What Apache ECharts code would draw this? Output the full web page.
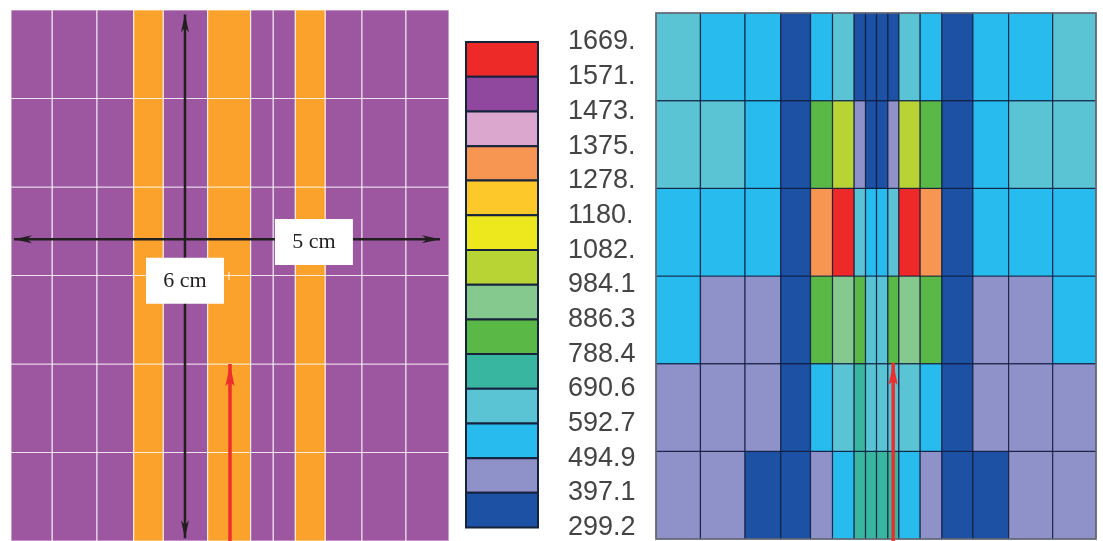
<!DOCTYPE html>
<html><head><meta charset="utf-8">
<style>html,body{margin:0;padding:0;background:#fff}#c{width:1103px;height:541px}</style>
<script src="https://cdn.jsdelivr.net/npm/echarts@6/dist/echarts.min.js"></script>
</head><body><div id="c"></div>
<script>
// ---- Left panel: specimen layout (cm) ----
const layoutXEdges = [0, 0.471, 0.982, 1.401, 1.739, 2.245, 2.736, 2.994, 3.246, 3.588, 4.007, 4.509, 5];
const layoutRowCount = 6;
const layoutMaterial = [0, 0, 0, 1, 0, 1, 0, 0, 1, 0, 0, 0];
const materialColors = ['#9c57a0', '#faa22b'];
const blackVertical = [1.986, 0.03, 5.95];
const blackHorizontal = [3.41, 0.034, 4.897];
const layoutRedArrow = [2.5, -0.02, 2.0];
const layoutTick = [2.489, 2.95, 3.04];
const layoutLabels = [
  ['5 cm', 3.458, 3.378, 78, 46],
  ['6 cm', 1.986, 2.94, 78, 46]
];

// ---- Colour scale ----
const legendTicks = [1669, 1571, 1473, 1375, 1278, 1180, 1082, 984.1, 886.3, 788.4, 690.6, 592.7, 494.9, 397.1, 299.2];
const legendLabels = ['1669.', '1571.', '1473.', '1375.', '1278.', '1180.', '1082.', '984.1', '886.3', '788.4', '690.6', '592.7', '494.9', '397.1', '299.2'];
const legendColors = ['#ee2a28', '#90479e', '#dca7cf', '#f79653', '#fdc82a', '#ece81d', '#b8d334', '#86c98f', '#5ab946', '#38b69f', '#5bc4d4', '#27bbee', '#8f92c8', '#1c51a3'];

// ---- Right panel: temperature field (band mid values) ----
const fieldXEdges = [0, 0.505, 1.012, 1.418, 1.756, 2.006, 2.252, 2.381, 2.506, 2.635, 2.760, 3.002, 3.249, 3.601, 4.007, 4.508, 5];
const fieldRow1 = [641, 543, 543, 348, 543, 641, 348, 348, 348, 348, 641, 543, 348, 543, 543, 641];
const fieldRow2 = [641, 641, 543, 348, 837, 1033, 446, 348, 348, 446, 1033, 837, 348, 543, 641, 641];
const fieldRow3 = [543, 543, 543, 348, 1326, 1620, 641, 543, 543, 641, 1620, 1326, 348, 543, 543, 543];
const fieldRow4 = [543, 446, 446, 348, 837, 935, 837, 641, 641, 837, 935, 837, 348, 446, 446, 543];
const fieldRow5 = [446, 446, 446, 348, 543, 641, 739, 641, 641, 641, 641, 543, 348, 446, 446, 446];
const fieldRow6 = [446, 446, 348, 348, 446, 543, 739, 739, 739, 739, 543, 446, 348, 348, 446, 446];
const fieldRedArrow = [2.695, -0.03, 2.01];

function bandColor(v) {
  for (let i = 0; i < legendColors.length; i++) {
    if (v <= legendTicks[i] && v > legendTicks[i + 1]) return legendColors[i];
  }
  return legendColors[legendColors.length - 1];
}

const layoutCells = [];
for (let r = 0; r < layoutRowCount; r++) layoutMaterial.forEach((m, c) =>
  layoutCells.push([layoutXEdges[c], layoutXEdges[c + 1], r, r + 1, m]));

const fieldRows = [fieldRow6, fieldRow5, fieldRow4, fieldRow3, fieldRow2, fieldRow1];
const fieldCells = [];
fieldRows.forEach((row, r) => row.forEach((v, c) =>
  fieldCells.push([fieldXEdges[c], fieldXEdges[c + 1], r, r + 1, v])));

const legendCells = legendColors.map((col, i) => [0, 1, legendTicks[i + 1], legendTicks[i], i]);

function rectOf(api) {
  const a = api.coord([api.value(0), api.value(2)]);
  const b = api.coord([api.value(1), api.value(3)]);
  return { x: a[0], y: b[1], width: b[0] - a[0], height: a[1] - b[1] };
}
function cellSeries(idx, data, fill, stroke, lw, z) {
  return {
    type: 'custom', xAxisIndex: idx, yAxisIndex: idx, data, silent: true, clip: false, z: z || 2,
    encode: { x: [0, 1], y: [2, 3] },
    renderItem(p, api) {
      return { type: 'rect', shape: rectOf(api), style: { fill: fill(api.value(4)), stroke, lineWidth: lw } };
    }
  };
}
function arrowSeries(idx, segs, color, lw, head, z) {
  return {
    type: 'custom', xAxisIndex: idx, yAxisIndex: idx, data: segs, silent: true, clip: false, z,
    encode: { x: [0, 2], y: [1, 3] },
    renderItem(p, api) {
      const a = api.coord([api.value(0), api.value(1)]);
      const b = api.coord([api.value(2), api.value(3)]);
      const ux = b[0] - a[0], uy = b[1] - a[1], L = Math.hypot(ux, uy);
      const dx = ux / L, dy = uy / L, nx = -dy, ny = dx;
      const children = [{ type: 'line', shape: { x1: a[0], y1: a[1], x2: b[0], y2: b[1] }, style: { stroke: color, lineWidth: lw } }];
      if (head) {
        const hl = head[0], hw = head[1], notch = head[2];
        const tips = [[b, dx, dy]];
        if (api.value(4)) tips.push([a, -dx, -dy]);
        tips.forEach(([t, tx, ty]) => children.push({
          type: 'polygon',
          shape: { points: [
            [t[0], t[1]],
            [t[0] - tx * hl + nx * hw, t[1] - ty * hl + ny * hw],
            [t[0] - tx * (hl - notch), t[1] - ty * (hl - notch)],
            [t[0] - tx * hl - nx * hw, t[1] - ty * hl - ny * hw]
          ] },
          style: { fill: color }
        }));
      }
      return { type: 'group', children };
    }
  };
}

const option = {
  animation: false,
  backgroundColor: '#fff',
  grid: [
    { left: 11, top: 10, width: 438, height: 531 },
    { left: 466, top: 42, width: 72, height: 490 },
    { left: 656, top: 13, width: 440, height: 526 }
  ],
  xAxis: [
    { gridIndex: 0, type: 'value', min: 0, max: 5, show: false },
    { gridIndex: 1, type: 'value', min: 0, max: 1, show: false },
    { gridIndex: 2, type: 'value', min: 0, max: 5, show: false }
  ],
  yAxis: [
    { gridIndex: 0, type: 'value', min: 0, max: 6, show: false },
    {
      gridIndex: 1, type: 'value', position: 'right', min: 299.2, max: 1669,
      axisLine: { show: false }, axisTick: { show: false }, splitLine: { show: false },
      axisLabel: {
        show: true, customValues: legendTicks, margin: 30, align: 'left',
        fontFamily: '"Liberation Sans", Arial, sans-serif', fontSize: 27, color: '#444444',
        padding: [0, 0, 10, 0],
        formatter: v => legendLabels[legendTicks.indexOf(v)]
      }
    },
    { gridIndex: 2, type: 'value', min: 0, max: 6, show: false }
  ],
  series: [
    cellSeries(0, layoutCells, m => materialColors[m], 'rgba(255,255,255,0.7)', 1.2),
    arrowSeries(0, [[layoutTick[0], layoutTick[1], layoutTick[0], layoutTick[2], 0]], 'rgba(255,255,255,0.6)', 1.5, null, 3),
    arrowSeries(0, [
      [blackVertical[0], blackVertical[1], blackVertical[0], blackVertical[2], 1],
      [blackHorizontal[1], blackHorizontal[0], blackHorizontal[2], blackHorizontal[0], 1]
    ], '#231f20', 2.5, [18, 4, 5], 5),
    arrowSeries(0, [[layoutRedArrow[0], layoutRedArrow[1], layoutRedArrow[0], layoutRedArrow[2], 0]], '#ee2e2c', 3.5, [22, 4.5, 4], 5),
    {
      type: 'custom', xAxisIndex: 0, yAxisIndex: 0, data: layoutLabels.map(d => [d[1], d[2], d[3], d[4]]),
      silent: true, clip: false, z: 6, encode: { x: 0, y: 1 },
      renderItem(p, api) {
        const c = api.coord([api.value(0), api.value(1)]);
        const w = api.value(2), h = api.value(3);
        const lab = layoutLabels[p.dataIndex][0];
        return { type: 'group', children: [
          { type: 'rect', shape: { x: c[0] - w / 2, y: c[1] - h / 2, width: w, height: h }, style: { fill: '#fff' } },
          { type: 'text', style: { x: c[0], y: c[1], text: lab, align: 'center', verticalAlign: 'middle',
            font: '22px "Liberation Serif", "Times New Roman", serif', fill: '#231f20' } }
        ] };
      }
    },
    cellSeries(1, legendCells, i => legendColors[i], '#15233c', 2),
    cellSeries(2, fieldCells, bandColor, 'rgba(15,25,60,0.8)', 1.2),
    cellSeries(2, [[0, 5, 0, 6, 0]], () => 'transparent', '#6b7078', 1.6, 3),
    arrowSeries(2, [[fieldRedArrow[0], fieldRedArrow[1], fieldRedArrow[0], fieldRedArrow[2], 0]], '#ee2e2c', 3.5, [22, 4.5, 4], 5)
  ]
};
echarts.init(document.getElementById('c'), null, { renderer: 'canvas' }).setOption(option);
</script></body></html>
